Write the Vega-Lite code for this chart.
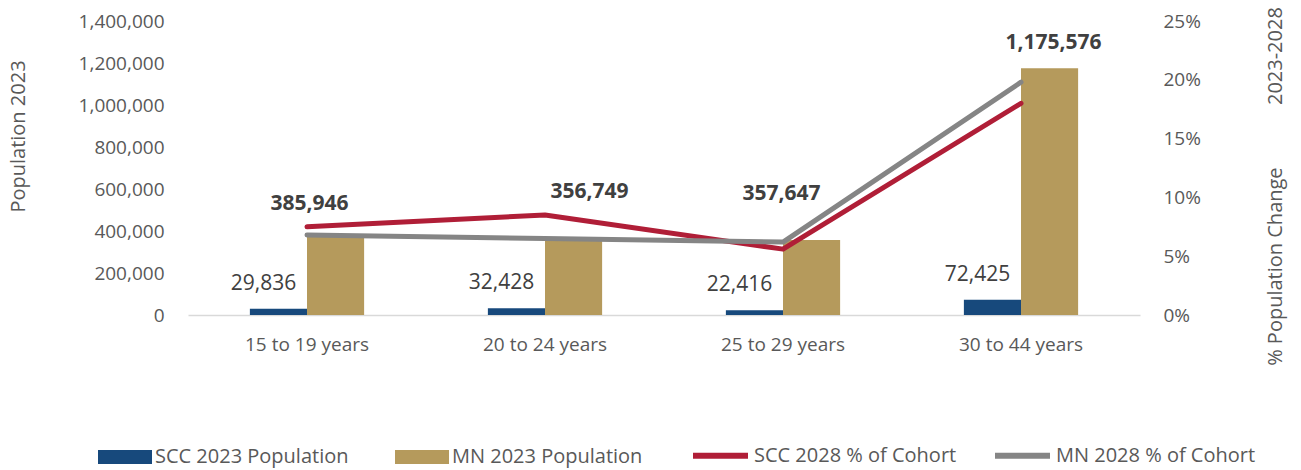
{
  "$schema": "https://vega.github.io/schema/vega-lite/v6.json",
  "width": 952,
  "height": 294,
  "autosize": "none",
  "padding": {"left": 188, "top": 21, "right": 161, "bottom": 155},
  "background": "white",
  "config": {
    "view": {"stroke": null},
    "font": "Open Sans",
    "axis": {"labelColor": "#595959", "titleColor": "#595959", "labelFontSize": 19, "titleFontSize": 20, "titleFontWeight": "normal", "grid": false, "ticks": false},
    "legend": {"labelColor": "#595959", "labelFontSize": 20, "title": null}
  },
  "datasets": {
    "bars": [
      {"age": "15 to 19 years", "series": "SCC 2023 Population", "population": 29836},
      {"age": "20 to 24 years", "series": "SCC 2023 Population", "population": 32428},
      {"age": "25 to 29 years", "series": "SCC 2023 Population", "population": 22416},
      {"age": "30 to 44 years", "series": "SCC 2023 Population", "population": 72425},
      {"age": "15 to 19 years", "series": "MN 2023 Population", "population": 385946},
      {"age": "20 to 24 years", "series": "MN 2023 Population", "population": 356749},
      {"age": "25 to 29 years", "series": "MN 2023 Population", "population": 357647},
      {"age": "30 to 44 years", "series": "MN 2023 Population", "population": 1175576}
    ],
    "lines": [
      {"age": "15 to 19 years", "series": "SCC 2028 % of Cohort", "pct": 0.075},
      {"age": "20 to 24 years", "series": "SCC 2028 % of Cohort", "pct": 0.085},
      {"age": "25 to 29 years", "series": "SCC 2028 % of Cohort", "pct": 0.056},
      {"age": "30 to 44 years", "series": "SCC 2028 % of Cohort", "pct": 0.18},
      {"age": "15 to 19 years", "series": "MN 2028 % of Cohort", "pct": 0.068},
      {"age": "20 to 24 years", "series": "MN 2028 % of Cohort", "pct": 0.065},
      {"age": "25 to 29 years", "series": "MN 2028 % of Cohort", "pct": 0.062},
      {"age": "30 to 44 years", "series": "MN 2028 % of Cohort", "pct": 0.198}
    ]
  },
  "encoding": {
    "x": {
      "field": "age", "type": "nominal",
      "sort": ["15 to 19 years", "20 to 24 years", "25 to 29 years", "30 to 44 years"],
      "scale": {"paddingInner": 0.52, "paddingOuter": 0.26},
      "axis": {"title": null, "labelPadding": 20, "domainColor": "#d9d9d9", "domainWidth": 1.5, "labelAngle": 0}
    }
  },
  "layer": [
    {
      "data": {"name": "bars"},
      "encoding": {
        "xOffset": {"field": "series", "type": "nominal", "sort": ["SCC 2023 Population", "MN 2023 Population"], "scale": {"domain": ["SCC 2023 Population", "MN 2023 Population"]}},
        "y": {
          "field": "population", "type": "quantitative",
          "scale": {"domain": [0, 1400000]},
          "axis": {"title": "Population 2023", "labelExpr": "format(datum.value, ',')", "values": [0, 200000, 400000, 600000, 800000, 1000000, 1200000, 1400000], "domain": false, "labelPadding": 24, "titleX": -170, "titleY": 115, "titleAlign": "center", "titleAngle": -90, "titleBaseline": "middle"}
        }
      },
      "layer": [
        {
          "mark": {"type": "bar"},
          "encoding": {
            "fill": {
              "field": "series", "type": "nominal",
              "scale": {"domain": ["SCC 2023 Population", "MN 2023 Population"], "range": ["#17497c", "#b59a5c"]},
              "legend": {"orient": "none", "legendX": -90, "legendY": 409, "direction": "horizontal", "columns": 2, "symbolType": "M-1,-0.26H1V0.26H-1Z", "symbolSize": 2916, "symbolStrokeWidth": 0, "labelOffset": 3, "columnPadding": 46, "labelLimit": 300}
            }
          }
        },
        {
          "transform": [{"filter": "datum.series === 'SCC 2023 Population'"}],
          "mark": {"type": "text", "fontSize": 21, "color": "#404040", "baseline": "middle", "dx": -15, "dy": -25},
          "encoding": {"text": {"field": "population", "type": "quantitative", "format": ","}}
        },
        {
          "transform": [{"filter": "datum.series === 'MN 2023 Population' && datum.age === '15 to 19 years'"}],
          "mark": {"type": "text", "fontSize": 21, "fontWeight": "bold", "color": "#404040", "baseline": "middle", "dx": -26, "dy": -30},
          "encoding": {"text": {"field": "population", "type": "quantitative", "format": ","}}
        },
        {
          "transform": [{"filter": "datum.series === 'MN 2023 Population' && datum.age === '20 to 24 years'"}],
          "mark": {"type": "text", "fontSize": 21, "fontWeight": "bold", "color": "#404040", "baseline": "middle", "dx": 16, "dy": -48},
          "encoding": {"text": {"field": "population", "type": "quantitative", "format": ","}}
        },
        {
          "transform": [{"filter": "datum.series === 'MN 2023 Population' && datum.age === '25 to 29 years'"}],
          "mark": {"type": "text", "fontSize": 21, "fontWeight": "bold", "color": "#404040", "baseline": "middle", "dx": -30, "dy": -46},
          "encoding": {"text": {"field": "population", "type": "quantitative", "format": ","}}
        },
        {
          "transform": [{"filter": "datum.series === 'MN 2023 Population' && datum.age === '30 to 44 years'"}],
          "mark": {"type": "text", "fontSize": 21, "fontWeight": "bold", "color": "#404040", "baseline": "middle", "dx": 4, "dy": -25},
          "encoding": {"text": {"field": "population", "type": "quantitative", "format": ","}}
        }
      ]
    },
    {
      "data": {"name": "lines"},
      "mark": {"type": "line", "strokeWidth": 5, "strokeCap": "round", "strokeJoin": "round"},
      "encoding": {
        "y": {
          "field": "pct", "type": "quantitative",
          "scale": {"domain": [0, 0.25]},
          "axis": {"orient": "right", "title": "% Population Change\u00a0\u00a0\u00a0\u00a0\u00a0\u00a0\u00a0\u00a0\u00a0\u00a0\u00a0\u00a02023-2028", "labelExpr": "format(datum.value, '.0%')", "values": [0, 0.05, 0.1, 0.15, 0.2, 0.25], "domain": false, "labelPadding": 23, "titleX": 135, "titleY": 165, "titleAlign": "center", "titleAngle": -90, "titleBaseline": "middle"}
        },
        "stroke": {
          "field": "series", "type": "nominal",
          "scale": {"domain": ["SCC 2028 % of Cohort", "MN 2028 % of Cohort"], "range": ["#b01e37", "#858585"]},
          "legend": {"orient": "none", "legendX": 502, "legendY": 404, "direction": "horizontal", "columns": 2, "symbolType": "stroke", "symbolSize": 3025, "symbolStrokeWidth": 6, "labelOffset": 3, "columnPadding": 26, "labelLimit": 300}
        },
        "order": {"field": "series"}
      }
    }
  ],
  "resolve": {"scale": {"y": "independent"}}
}
